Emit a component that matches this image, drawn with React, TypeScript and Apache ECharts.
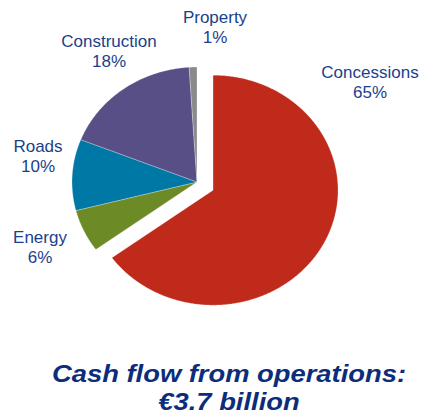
import React, { useEffect, useRef } from 'react';
import * as echarts from 'echarts';

// Data
const categories = ['Concessions', 'Energy', 'Roads', 'Construction', 'Property'];
const shares = [65, 6, 10, 18, 1];
const sliceColors = ['#BF2A1B', '#6C8A25', '#0078A6', '#584F86', '#8A8A8A'];
const titleLines = ['Cash flow from operations:', '€3.7 billion'];

// Layout
const CX = 197;
const CY = 182;
const RX = 125;
const RY = 115;
const EXPLODE = 18;
const labelPos: [number, number][] = [
  [370, 82],
  [40, 247],
  [38, 156],
  [109, 51],
  [215, 27],
];

export default function App() {
  const ref = useRef<HTMLDivElement>(null);
  useEffect(() => {
    const chart = echarts.init(ref.current as HTMLDivElement, null, { renderer: 'svg' });
    const total = shares.reduce((a, b) => a + b, 0);
    const starts: number[] = [];
    let acc = 0;
    shares.forEach((v) => {
      starts.push(acc);
      acc += v;
    });
    chart.setOption({
      animation: false,
      backgroundColor: '#ffffff',
      graphic: titleLines.map((t, k) => ({
        type: 'text',
        x: 229,
        y: 374 + 28 * k,
        scaleX: 1.14,
        style: {
          text: t,
          fill: '#0C2D7C',
          fontStyle: 'italic',
          fontWeight: 'bold',
          fontSize: 24,
          fontFamily: '"Liberation Sans", Arial, sans-serif',
          align: 'center',
          verticalAlign: 'middle',
        },
      })),
      series: [
        {
          type: 'custom',
          coordinateSystem: 'none',
          data: shares.map((v, i) => ({ name: categories[i], value: [v] })),
          renderItem: (params: any, api: any) => {
            const i = params.dataIndex;
            const v = api.value(0);
            const a0 = (starts[i] / total) * Math.PI * 2;
            const a1 = ((starts[i] + v) / total) * Math.PI * 2;
            const mid = (a0 + a1) / 2;
            const off = i === 0 ? EXPLODE : 0;
            const cx = CX + Math.sin(mid) * off;
            const cy = CY - Math.cos(mid) * off;
            const pts: number[][] = [[cx, cy]];
            const steps = Math.max(2, Math.ceil((a1 - a0) / (Math.PI / 360)));
            for (let k = 0; k <= steps; k++) {
              const a = a0 + ((a1 - a0) * k) / steps;
              pts.push([cx + RX * Math.sin(a), cy - RY * Math.cos(a)]);
            }
            return {
              type: 'group',
              children: [
                {
                  type: 'polygon',
                  shape: { points: pts },
                  style: {
                    fill: sliceColors[i],
                    stroke: 'rgba(255,255,255,0.45)',
                    lineWidth: 0.6,
                  },
                },
                {
                  type: 'text',
                  x: labelPos[i][0],
                  y: labelPos[i][1],
                  style: {
                    text: `${categories[i]}\n${v}%`,
                    fill: '#1B3F8B',
                    fontSize: 17,
                    fontFamily: '"Liberation Sans", Arial, sans-serif',
                    lineHeight: 20,
                    align: 'center',
                    verticalAlign: 'middle',
                  },
                },
              ],
            };
          },
        },
      ],
    });
    return () => chart.dispose();
  }, []);
  return (
    <div
      ref={ref}
      style={{ position: 'fixed', left: 0, top: 0, width: 421, height: 416 }}
    />
  );
}
